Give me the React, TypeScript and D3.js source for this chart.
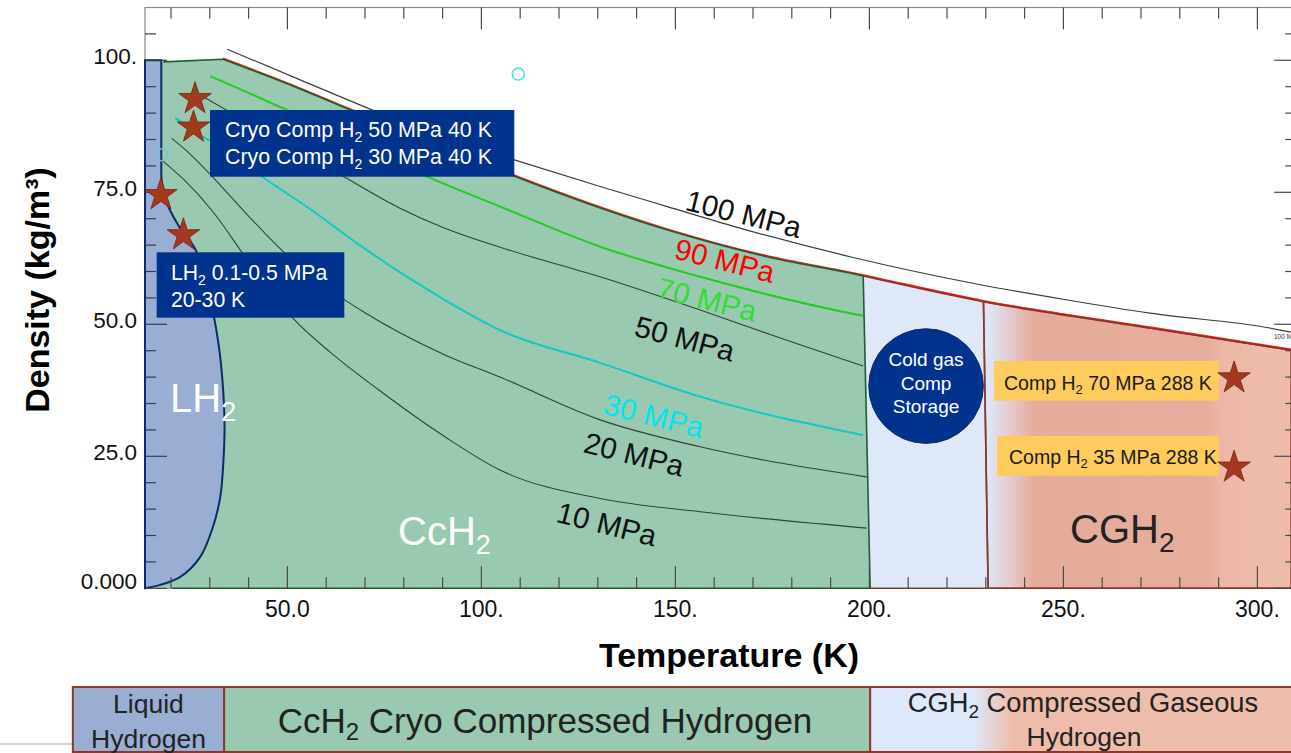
import React, { useEffect } from 'react';
import * as d3 from 'd3';

type P = [number, number];

// ---------- data (temperature K, density kg/m³) ----------
const isobar10: P[] = [[17.6, 81.1], [23.6, 77.2], [30.5, 71.6], [39.1, 62.8], [46.0, 55.9], [51.1, 51.4], [61.4, 44.5], [73.5, 37.6], [90.6, 28.7], [104.8, 22.4], [130.6, 17.0], [156.4, 14.5], [199.3, 11.4]];
const isobar20: P[] = [[20.2, 85.2], [25, 82.2], [30, 78.5], [35, 74.5], [40, 70.5], [50, 63], [60, 57], [70, 52.2], [79, 48.4], [90.6, 44.2], [104.8, 40.0], [130.6, 31.9], [156.4, 26.8], [199.3, 21.1]];
const isobar30: P[] = [[21.1, 89.1], [26.2, 86.5], [35, 82.5], [43.4, 78.0], [56.3, 71.6], [69.2, 64.7], [82.1, 58.4], [90.6, 54.6], [104.8, 48.9], [130.6, 42.7], [156.4, 36.3], [198.4, 29.0]];
const isobar50: P[] = [[28.3, 93.1], [40, 88.2], [50, 84], [64.9, 77.8], [79.0, 72.0], [90.6, 68.2], [104.8, 64.6], [130.6, 59.0], [156.4, 52.7], [177, 47.4], [198.4, 42.1]];
const isobar70: P[] = [[30.1, 97.0], [49.8, 90.6], [67, 84.6], [85.9, 78.0], [104.8, 72.3], [130.6, 64.7], [156.4, 59.0], [195.0, 52.1], [198.4, 51.6]];
const isobar90: P[] = [[33.4, 100.2], [49.8, 95.6], [66.2, 90.6], [88, 84.2], [108.7, 78.0], [147.8, 67.9], [173.6, 62.8], [195, 59.7], [229.4, 54.3], [272.3, 49.3], [308.7, 45.1]];
const isobar100: P[] = [[34.5, 102.1], [53.3, 96.3], [73.9, 90.0], [92.0, 85.1], [108.7, 81.1], [130.6, 76.1], [147.9, 72.3], [164.8, 68.6], [195.0, 62.8], [229.3, 57.4], [251.0, 54.6], [272.3, 52.1], [303.2, 49.3], [308.7, 48.5]];

// saturation / liquid boundary
const lh2Boundary: P[] = [[17.5, 78], [18.5, 73.8], [22, 68.6], [26.2, 64.3], [30.6, 53], [32.3, 46], [33.3, 39], [33.8, 31], [33.5, 24], [32.7, 17.3], [30.8, 11.6], [27.5, 5.9], [22.3, 2.1], [17, 0.6], [13.3, 0]];
const lh2Top: P[] = [[13.3, 100], [17.5, 100]];
const greenTopLeft: P = [18.0, 99.7];
const greenRightT: P = [198.4, 200.2]; // top T, bottom T
const cgh2LeftT: P = [229.4, 230.6];

const starsCryo: P[] = [[26.2, 93.0], [25.8, 87.6], [17.4, 74.8], [23.2, 67.2]];
const starsComp: P[] = [[294.0, 40.1], [294.0, 23.2]];
const cyanMarks: P[] = [[109.5, 97.4], [17.6, 82.1]];
const coldGasCenter: P = [214.6, 38.3];

const xMajor = [50, 100, 150, 200, 250, 300];
const xMajorLabels = ['50.0', '100.', '150.', '200.', '250.', '300.'];
const yMajor = [0, 25, 50, 75, 100];
const yMajorLabels = ['0.000', '25.0', '50.0', '75.0', '100.'];

const isobarLabels = [
  { text: '100 MPa', t: 152.2, r: 71.7, color: '#111111', angle: 14 },
  { text: '90 MPa', t: 149.4, r: 62.5, color: '#ff0000', angle: 14 },
  { text: '70 MPa', t: 144.8, r: 55.1, color: '#33dd33', angle: 14 },
  { text: '50 MPa', t: 139.1, r: 47.9, color: '#111111', angle: 15 },
  { text: '30 MPa', t: 131.1, r: 33.1, color: '#00e5ee', angle: 14 },
  { text: '20 MPa', t: 126.0, r: 25.8, color: '#111111', angle: 14 },
  { text: '10 MPa', t: 119.0, r: 12.6, color: '#111111', angle: 14 },
];

const bandEdgesT = [-5.3, 33.7, 200.2, 310];

// ---------- scales ----------
const W = 1291, H = 753;
const T_MIN = 13.3, T_MAX = 310;
const x = d3.scaleLinear().domain([T_MIN, T_MAX]).range([145, 1296.2]);
const y = d3.scaleLinear().domain([0, 110]).range([588.3, 7.5]);

const FONT = "'Liberation Sans', Arial, Helvetica, sans-serif";

const mono = d3.line<P>().x(d => x(d[0])).y(d => y(d[1])).curve(d3.curveMonotoneX);
const cat = d3.line<P>().x(d => x(d[0])).y(d => y(d[1])).curve(d3.curveCatmullRom.alpha(0.5));
const lin = d3.line<P>().x(d => x(d[0])).y(d => y(d[1]));

function interpAt(s: P[], t: number) {
  for (let i = 0; i < s.length - 1; i++) {
    const [t0, v0] = s[i], [t1, v1] = s[i + 1];
    if (t >= t0 && t <= t1) return v0 + (v1 - v0) * (t - t0) / (t1 - t0);
  }
  return t < s[0][0] ? s[0][1] : s[s.length - 1][1];
}
function segment(s: P[], a: number, b: number): P[] {
  const out: P[] = [[a, interpAt(s, a)]];
  s.forEach(p => { if (p[0] > a + 1e-6 && p[0] < b - 1e-6) out.push(p); });
  out.push([b, interpAt(s, b)]);
  return out;
}
const asL = (d: string | null) => (d || '').replace(/^M/, 'L');

function Sub({ x: tx, y: ty, pre, post, size, subSize, subDy, fill, anchor = 'start', weight = 'normal' }: any) {
  return (
    <text x={tx} y={ty} fontSize={size} fill={fill} textAnchor={anchor} fontFamily={FONT} fontWeight={weight}>
      {pre}
      <tspan fontSize={subSize} dy={subDy}>2</tspan>
      <tspan dy={-subDy}>{post}</tspan>
    </text>
  );
}

export default function App() {
  useEffect(() => {
    document.body.style.margin = '0';
    document.body.style.overflow = 'hidden';
  }, []);

  const g90 = segment(isobar90, isobar90[0][0], greenRightT[0]);
  const greenD = `M${x(T_MIN)},${y(0)}L${x(T_MIN)},${y(greenTopLeft[1])}L${x(greenTopLeft[0])},${y(greenTopLeft[1])}` +
    asL(mono(g90)) + `L${x(greenRightT[1])},${y(0)}Z`;
  const greenEdge = `M${x(greenTopLeft[0])},${y(greenTopLeft[1])}` + asL(mono(g90)) +
    `L${x(greenRightT[1])},${y(0)}L${x(20.2)},${y(0)}`;

  const c90 = segment(isobar90, greenRightT[0], cgh2LeftT[0]);
  const coldD = mono(c90) + `L${x(cgh2LeftT[1])},${y(0)}L${x(greenRightT[1])},${y(0)}Z`;

  const h90 = segment(isobar90, cgh2LeftT[0], isobar90[isobar90.length - 1][0]);
  const cghD = mono(h90) + `L${x(h90[h90.length - 1][0])},${y(0)}L${x(cgh2LeftT[1])},${y(0)}Z`;
  const gasTop = segment(isobar90, greenRightT[0], isobar90[isobar90.length - 1][0]);

  const lh2D = lin(lh2Top) + asL(cat(lh2Boundary)) + 'Z';

  const star = d3.symbol().type(d3.symbolStar).size(330)() || '';

  const xMinor = d3.range(20, 301, 10);
  const yMinor = d3.range(0, 106, 5);
  const tickColor = '#4a4a4a';

  const bandX = bandEdgesT.map(t => x(t));
  const bandTop = 687, bandBot = 752;

  return (
    <svg width={W} height={H} style={{ position: 'absolute', left: 0, top: 0, background: '#fff' }} fontFamily={FONT}>
      <defs>
        <linearGradient id="cgh2" gradientUnits="userSpaceOnUse" x1={x(cgh2LeftT[1])} x2={1291} y1={0} y2={0}>
          <stop offset="0" stopColor="#dde6f7" />
          <stop offset="0.06" stopColor="#e4cfd6" />
          <stop offset="0.15" stopColor="#e6ac9b" />
          <stop offset="0.72" stopColor="#e7ad9c" />
          <stop offset="0.78" stopColor="#edb8a8" />
          <stop offset="1" stopColor="#efbcac" />
        </linearGradient>
        <linearGradient id="bandg" gradientUnits="userSpaceOnUse" x1={bandX[2]} x2={1291} y1={0} y2={0}>
          <stop offset="0" stopColor="#dde8fa" />
          <stop offset="0.245" stopColor="#dde8fa" />
          <stop offset="0.34" stopColor="#eebcaa" />
          <stop offset="1" stopColor="#efbdac" />
        </linearGradient>
      </defs>

      {/* frame */}
      <rect x={x(T_MIN)} y={y(110)} width={x(T_MAX) - x(T_MIN)} height={y(0) - y(110)} fill="none" stroke="#8a8a8a" strokeWidth={1.2} />

      {/* regions */}
      <path d={greenD} fill="#99c9b0" />
      <path d={coldD} fill="#dee8f9" />
      <path d={cghD} fill="url(#cgh2)" stroke="#8b3a2a" strokeWidth={1.6} />

      {/* isobars */}
      <path d={mono(isobar10) || ''} fill="none" stroke="#2b4436" strokeWidth={1.1} />
      <path d={mono(isobar20) || ''} fill="none" stroke="#2b4436" strokeWidth={1.1} />
      <path d={mono(isobar50) || ''} fill="none" stroke="#2b4436" strokeWidth={1.1} />
      <path d={mono(isobar30) || ''} fill="none" stroke="#12c8c4" strokeWidth={2} />
      <path d={mono(isobar70) || ''} fill="none" stroke="#22cc22" strokeWidth={2} />
      <path d={mono(isobar100) || ''} fill="none" stroke="#3c3c3c" strokeWidth={1.2} />
      <path d={mono(isobar90) || ''} fill="none" stroke="#ff1a1a" strokeWidth={1.8} transform="translate(0,-0.8)" />
      <path d={greenEdge} fill="none" stroke="#1d5f30" strokeWidth={1.6} />
      <path d={mono(gasTop) || ''} fill="none" stroke="#8e3324" strokeWidth={1.7} />
      <line x1={x(cgh2LeftT[0])} y1={y(interpAt(isobar90, cgh2LeftT[0]))} x2={x(cgh2LeftT[1])} y2={y(0)} stroke="#8b3a2a" strokeWidth={1.6} />
      <line x1={x(greenRightT[1])} y1={y(0)} x2={1291} y2={y(0)} stroke="#8b3a2a" strokeWidth={1.4} />

      {/* LH2 region */}
      <path d={lh2D} fill="#9aaed4" stroke="#0d2b68" strokeWidth={2} />

      {/* ticks */}
      {xMinor.map(t => {
        const len = t % 50 === 0 ? 22 : 11;
        return (
          <g key={'xt' + t} stroke={tickColor} strokeWidth={1.2}>
            <line x1={x(t)} x2={x(t)} y1={y(0)} y2={y(0) - len} />
            <line x1={x(t)} x2={x(t)} y1={y(110)} y2={y(110) + len} />
          </g>
        );
      })}
      {yMinor.map(v => {
        const len = v % 25 === 0 ? 22 : 11;
        return (
          <g key={'yt' + v} stroke={v > 0 ? '#333a55' : tickColor} strokeWidth={1.2}>
            <line x1={x(T_MIN)} x2={x(T_MIN) + len} y1={y(v)} y2={y(v)} />
            <line x1={x(T_MAX)} x2={x(T_MAX) - len} y1={y(v)} y2={y(v)} stroke={tickColor} />
          </g>
        );
      })}
      {xMajor.map((t, i) => (
        <text key={'xl' + t} x={x(t)} y={617} textAnchor="middle" fontSize={23} fill="#111">{xMajorLabels[i]}</text>
      ))}
      {yMajor.map((v, i) => (
        <text key={'yl' + v} x={137} y={y(v) + (v === 0 ? 1 : 4)} textAnchor="end" fontSize={22.5} fill="#111">{yMajorLabels[i]}</text>
      ))}
      <text x={1274} y={339} fontSize={6.5} fill="#333">100 MPa</text>

      {/* axis titles */}
      <text x={729} y={667} textAnchor="middle" fontSize={34} fontWeight="bold" fill="#000">Temperature (K)</text>
      <text transform={`translate(49,290) rotate(-90)`} textAnchor="middle" fontSize={34} fontWeight="bold" fill="#000">Density (kg/m³)</text>

      {/* isobar labels */}
      {isobarLabels.map(l => (
        <text key={l.text} transform={`translate(${x(l.t)},${y(l.r)}) rotate(${l.angle})`} fontSize={29.5} fill={l.color}>{l.text}</text>
      ))}

      {/* region labels */}
      <Sub x={170} y={411.7} pre="LH" post="" size={40} subSize={27} subDy={9} fill="#ffffff" />
      <Sub x={398} y={545} pre="CcH" post="" size={40} subSize={27} subDy={9} fill="#ffffff" />
      <Sub x={1070} y={542.7} pre="CGH" post="" size={40} subSize={28} subDy={9} fill="#222222" />

      {/* annotation boxes */}
      <rect x={210} y={110} width={304.3} height={66.7} fill="#00338d" />
      <Sub x={225} y={137} pre="Cryo Comp H" post=" 50 MPa 40 K" size={21.4} subSize={14} subDy={5} fill="#ffffff" />
      <Sub x={225} y={163.5} pre="Cryo Comp H" post=" 30 MPa 40 K" size={21.4} subSize={14} subDy={5} fill="#ffffff" />

      <rect x={156.7} y={252.3} width={187.6} height={65.4} fill="#00338d" />
      <Sub x={171} y={280} pre="LH" post=" 0.1-0.5 MPa" size={21.2} subSize={14} subDy={5} fill="#ffffff" />
      <text x={171} y={306.5} fontSize={21.2} fill="#ffffff">20-30 K</text>

      <rect x={994} y={361} width={225.3} height={39.7} fill="#fecb5d" />
      <Sub x={1004} y={390} pre="Comp H" post=" 70 MPa 288 K" size={19.5} subSize={13} subDy={4} fill="#1a1a1a" />
      <rect x={997} y={436} width={222.3} height={39.7} fill="#fecb5d" />
      <Sub x={1009} y={464} pre="Comp H" post=" 35 MPa 288 K" size={19.5} subSize={13} subDy={4} fill="#1a1a1a" />

      <circle cx={x(coldGasCenter[0])} cy={y(coldGasCenter[1])} r={57.3} fill="#00338d" stroke="#0a2a6a" strokeWidth={1} />
      {['Cold gas', 'Comp', 'Storage'].map((s, i) => (
        <text key={s} x={x(coldGasCenter[0])} y={366 + i * 23.5} textAnchor="middle" fontSize={19} fill="#ffffff">{s}</text>
      ))}

      {/* stars */}
      {[...starsCryo, ...starsComp].map((p, i) => (
        <path key={'s' + i} d={star} transform={`translate(${x(p[0])},${y(p[1]) + 1.5})`} fill="#a33a1e" stroke="#6e2612" strokeWidth={0.8} />
      ))}
      {cyanMarks.map((p, i) => (
        <circle key={'c' + i} cx={x(p[0])} cy={y(p[1])} r={6} fill="none" stroke={i === 0 ? '#35e3f0' : '#6cc9d6'} strokeWidth={1.5} />
      ))}

      {/* bottom band */}
      <line x1={0} x2={bandX[0]} y1={744} y2={744} stroke="#c4c4c4" strokeWidth={1.5} />
      <rect x={bandX[0]} y={bandTop} width={bandX[1] - bandX[0]} height={bandBot - bandTop} fill="#9aaed4" stroke="#8b3a2a" strokeWidth={2} />
      <rect x={bandX[1]} y={bandTop} width={bandX[2] - bandX[1]} height={bandBot - bandTop} fill="#99c9b0" stroke="#8b3a2a" strokeWidth={2} />
      <rect x={bandX[2]} y={bandTop} width={bandX[3] - bandX[2]} height={bandBot - bandTop} fill="url(#bandg)" stroke="#8b3a2a" strokeWidth={2} />
      <text x={(bandX[0] + bandX[1]) / 2} y={713} textAnchor="middle" fontSize={26.5} fill="#222">Liquid</text>
      <text x={(bandX[0] + bandX[1]) / 2} y={748} textAnchor="middle" fontSize={26.5} fill="#222">Hydrogen</text>
      <Sub x={545} y={733} pre="CcH" post=" Cryo Compressed Hydrogen" size={35} subSize={24} subDy={7} fill="#222" anchor="middle" />
      <Sub x={1083} y={711.5} pre="CGH" post=" Compressed Gaseous" size={27.3} subSize={19} subDy={6} fill="#222" anchor="middle" />
      <text x={1084} y={746} textAnchor="middle" fontSize={26.5} fill="#222">Hydrogen</text>
    </svg>
  );
}
